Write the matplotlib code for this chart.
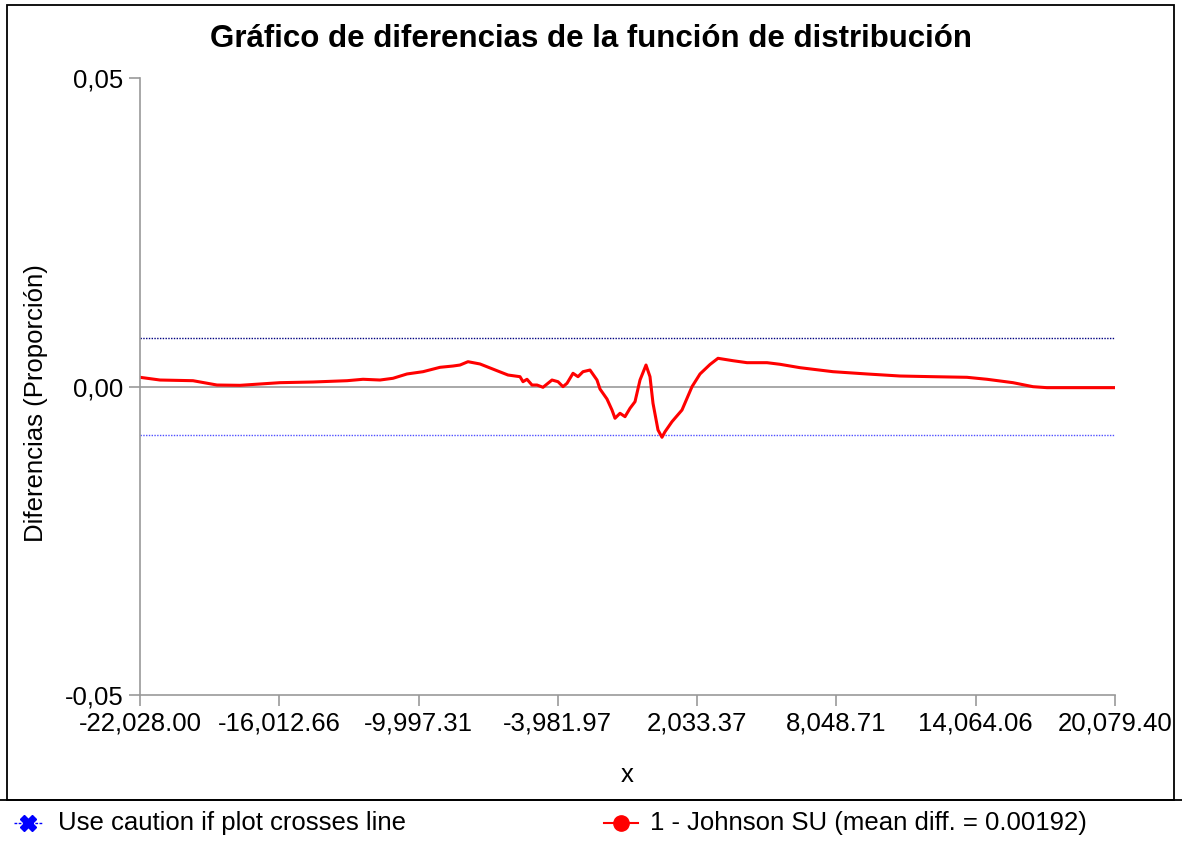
import matplotlib
matplotlib.use("Agg")
import matplotlib.pyplot as plt
from matplotlib.lines import Line2D
from matplotlib.patches import Rectangle

plt.rcParams['font.family'] = ['Liberation Sans', 'DejaVu Sans']

# ---- data ----
x_ticks = [-22028.00, -16012.66, -9997.31, -3981.97, 2033.37, 8048.71, 14064.06, 20079.40]
x_tick_labels = ["-22,028.00", "-16,012.66", "-9,997.31", "-3,981.97",
                 "2,033.37", "8,048.71", "14,064.06", "20,079.40"]
y_ticks = [-0.05, 0.0, 0.05]
y_tick_labels = ["-0,05", "0,00", "0,05"]
upper_limit = 0.0078
lower_limit = -0.0079

diff_x = [-22028, -21164, -19739, -18703, -17709, -15982, -14557, -13088, -12397, -11663,
          -11102, -10497, -9806, -9072, -8510, -8208, -7863, -7344, -6610, -6135,
          -5617, -5487, -5315, -5099, -4883, -4624, -4235, -3976, -3760, -3587,
          -3328, -3112, -2896, -2594, -2292, -2162, -1860, -1644, -1514, -1298,
          -1082, -866, -650, -434, -175, -3, 127, 343, 515, 645,
          947, 1379, 1811, 2157, 2589, 2934, 3582, 4187, 5050, 5612,
          6475, 7901, 9369, 10794, 12219, 13688, 14551, 15674, 16538, 17143,
          20079]
diff_y = [0.00149, 0.00105, 0.00094, 0.00024, 0.00019, 0.00062, 0.00073, 0.00094, 0.00117, 0.00105,
          0.00133, 0.00203, 0.00240, 0.00311, 0.00332, 0.00348, 0.00402, 0.00365, 0.00256, 0.00186,
          0.00159, 0.00078, 0.00117, 0.00024, 0.00024, -0.00013, 0.00105, 0.00078, -0.00003, 0.00052,
          0.00214, 0.00159, 0.00240, 0.00267, 0.00105, -0.00041, -0.00203, -0.00381, -0.00515, -0.00434,
          -0.00489, -0.00353, -0.00246, 0.00105, 0.00348, 0.00159, -0.00272, -0.00705, -0.00823, -0.00733,
          -0.00570, -0.00381, -0.00003, 0.00203, 0.00357, 0.00457, 0.00418, 0.00386, 0.00386, 0.00360,
          0.00305, 0.00240, 0.00203, 0.00170, 0.00159, 0.00149, 0.00117, 0.00062, -0.00003, -0.00019,
          -0.00019]

fig = plt.figure(figsize=(11.82, 8.43), dpi=100)
W, H = 1182, 843

def fx(px):
    return px / W

def fy(py):
    return 1 - py / H

# figure frame
fig.patches.append(Rectangle((fx(7), fy(800)), fx(1174) - fx(7), fy(5) - fy(800),
                             transform=fig.transFigure, fill=False, edgecolor='black', lw=1.3))
fig.add_artist(Line2D([fx(0), fx(1182)], [fy(800), fy(800)], color='black', lw=1.3))

ax = fig.add_axes([fx(140), fy(695), fx(1115) - fx(140), fy(78) - fy(695)])
ax.set_xlim(x_ticks[0], x_ticks[-1])
ax.set_ylim(-0.05, 0.05)

ax.axhline(0, color='#999999', lw=1.2)
ax.axhline(upper_limit, color='#000080', lw=1.0, ls=(0, (1, 1)))
ax.axhline(lower_limit, color='#5050ff', lw=1.0, ls=(0, (1, 1)))
ax.plot(diff_x, diff_y, color='red', lw=2.2)

for s in ['top', 'right']:
    ax.spines[s].set_visible(False)
for s in ['left', 'bottom']:
    ax.spines[s].set_color('#999999')
    ax.spines[s].set_linewidth(1.2)

ax.set_xticks(x_ticks)
ax.set_xticklabels(x_tick_labels, fontsize=18.5)
ax.set_yticks(y_ticks)
ax.set_yticklabels(y_tick_labels, fontsize=18.5)
ax.tick_params(axis='both', color='#999999', length=8, width=1.2, pad=4)

ax.set_xlabel("x", fontsize=18.5, labelpad=20)
ax.set_ylabel("Diferencias (Proporción)", fontsize=18.5)
ax.yaxis.set_label_coords(-0.094, 0.473)
fig.text(0.5, fy(39), "Gráfico de diferencias de la función de distribución",
         ha='center', va='center', fontsize=22.5, fontweight='bold')

# legend
ly = fy(823)
fig.add_artist(Line2D([fx(14), fx(42)], [ly, ly], color='blue', lw=1.0, ls=(0, (2, 1))))
fig.add_artist(Line2D([fx(28)], [ly], color='blue', marker='X', markersize=11, lw=0))
fig.text(fx(58), ly, "Use caution if plot crosses line", ha='left', va='center', fontsize=18.5)
fig.add_artist(Line2D([fx(604), fx(638)], [ly, ly], color='red', lw=1.5))
fig.add_artist(Line2D([fx(621)], [ly], color='red', marker='o', markersize=11, lw=0))
fig.text(fx(650), ly, "1 - Johnson SU (mean diff. = 0.00192)", ha='left', va='center', fontsize=18.5)

fig.savefig("out.png", dpi=100)
